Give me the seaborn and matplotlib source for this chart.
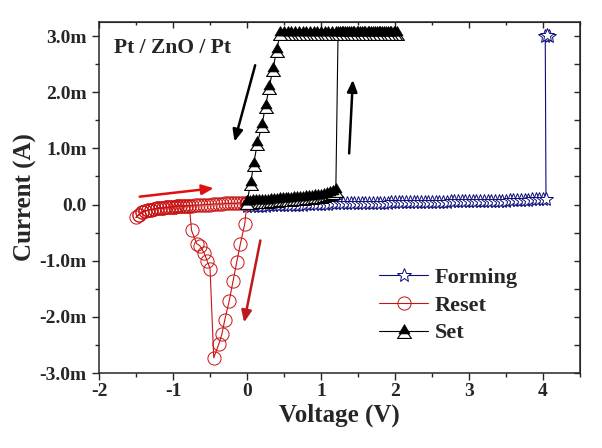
import matplotlib
matplotlib.use("Agg")
import matplotlib.pyplot as plt
import seaborn as sns
from matplotlib.path import Path
from matplotlib.lines import Line2D
from matplotlib.legend_handler import HandlerTuple
from matplotlib.ticker import MultipleLocator, FuncFormatter

# Forming sweep (V, mA)
forming_v = [0.00, 0.05, 0.10, 0.15, 0.20, 0.25, 0.30, 0.35, 0.40, 0.45,
             0.50, 0.55, 0.60, 0.65, 0.70, 0.75, 0.80, 0.85, 0.90, 0.95,
             1.00, 1.05, 1.10, 1.15, 1.20, 1.25, 1.30, 1.35, 1.40, 1.45,
             1.50, 1.55, 1.60, 1.65, 1.70, 1.75, 1.80, 1.85, 1.90, 1.95,
             2.00, 2.05, 2.10, 2.15, 2.20, 2.25, 2.30, 2.35, 2.40, 2.45,
             2.50, 2.55, 2.60, 2.65, 2.70, 2.75, 2.80, 2.85, 2.90, 2.95,
             3.00, 3.05, 3.10, 3.15, 3.20, 3.25, 3.30, 3.35, 3.40, 3.45,
             3.50, 3.55, 3.60, 3.65, 3.70, 3.75, 3.80, 3.85, 3.90, 3.95,
             4.00, 4.04, 4.03, 4.08, 4.05]
forming_i = [-0.03, -0.03, -0.02, -0.02, -0.02, -0.02, -0.01, -0.01, -0.01, -0.01,
             -0.01, 0.00, 0.00, 0.00, 0.00, 0.00, 0.01, 0.01, 0.01, 0.01,
             0.01, 0.01, 0.01, 0.02, 0.02, 0.02, 0.02, 0.02, 0.02, 0.02,
             0.02, 0.03, 0.03, 0.03, 0.03, 0.03, 0.03, 0.03, 0.03, 0.04,
             0.04, 0.04, 0.04, 0.04, 0.04, 0.04, 0.04, 0.05, 0.05, 0.05,
             0.05, 0.05, 0.05, 0.05, 0.05, 0.06, 0.06, 0.06, 0.06, 0.06,
             0.06, 0.06, 0.06, 0.07, 0.07, 0.07, 0.07, 0.07, 0.07, 0.07,
             0.07, 0.08, 0.08, 0.08, 0.08, 0.08, 0.08, 0.09, 0.09, 0.09,
             0.09, 0.10, 3.00, 3.00, 3.01]

# Reset sweep: sharp dip then the low current curve out to -1.5 V and back
reset_dip_v = [0.00, -0.03, -0.09, -0.14, -0.19, -0.24, -0.30, -0.34, -0.38, -0.45,
               -0.50, -0.54, -0.58, -0.64, -0.68, -0.75]
reset_dip_i = [0.03, -0.34, -0.70, -1.03, -1.37, -1.71, -2.05, -2.31, -2.48, -2.73,
               -1.14, -1.00, -0.86, -0.73, -0.70, -0.46]
reset_out_v = [-0.78, -0.82, -0.86, -0.90, -0.94, -0.98, -1.02, -1.06, -1.10, -1.14,
               -1.18, -1.22, -1.26, -1.30, -1.34, -1.38, -1.42, -1.46, -1.50]
reset_out_i = [-0.02, -0.02, -0.03, -0.03, -0.03, -0.04, -0.04, -0.05, -0.05, -0.06,
               -0.06, -0.07, -0.08, -0.09, -0.10, -0.12, -0.14, -0.18, -0.23]
reset_back_v = [-1.46, -1.42, -1.38, -1.34, -1.30, -1.26, -1.22, -1.18, -1.14, -1.10,
                -1.06, -1.02, -0.98, -0.94, -0.90, -0.86, -0.82, -0.78, -0.74, -0.70,
                -0.66, -0.62, -0.58, -0.54, -0.50, -0.46, -0.42, -0.38, -0.34, -0.30,
                -0.26, -0.22, -0.18, -0.14, -0.10, -0.06, -0.02]
reset_back_i = [-0.18, -0.14, -0.12, -0.10, -0.09, -0.08, -0.07, -0.06, -0.06, -0.05,
                -0.05, -0.04, -0.04, -0.03, -0.03, -0.03, -0.02, -0.02, -0.02, -0.01,
                -0.01, -0.01, 0.00, 0.00, 0.00, 0.01, 0.01, 0.01, 0.01, 0.02,
                0.02, 0.02, 0.02, 0.02, 0.03, 0.03, 0.03]

# Set sweep
set_v = [0.00, 0.04, 0.08, 0.12, 0.16, 0.20, 0.24, 0.28, 0.32, 0.36,
         0.40, 0.44, 0.48, 0.52, 0.56, 0.60, 0.64, 0.68, 0.72, 0.76,
         0.80, 0.84, 0.88, 0.92, 0.96, 1.00, 1.04, 1.08, 1.12, 1.16, 1.20,
         1.23, 1.28, 1.33, 1.38, 1.43, 1.48, 1.53, 1.58, 1.63, 1.68,
         1.73, 1.78, 1.83, 1.88, 1.93, 1.98, 2.03,
         2.00, 1.95, 1.90, 1.85, 1.80, 1.75, 1.70, 1.65, 1.60, 1.55,
         1.50, 1.45, 1.40, 1.35, 1.30, 1.25, 1.20, 1.15, 1.10, 1.05,
         1.00, 0.95, 0.90, 0.85, 0.80, 0.75, 0.70, 0.65, 0.60, 0.55, 0.50, 0.45,
         0.40, 0.35, 0.30, 0.25, 0.20, 0.14, 0.09, 0.05, 0.00]
set_i = [0.05, 0.05, 0.06, 0.06, 0.06, 0.07, 0.07, 0.07, 0.08, 0.08,
         0.08, 0.09, 0.09, 0.10, 0.10, 0.10, 0.11, 0.11, 0.12, 0.12,
         0.13, 0.13, 0.14, 0.15, 0.15, 0.16, 0.17, 0.18, 0.20, 0.22, 0.26,
         3.05, 3.05, 3.05, 3.05, 3.05, 3.05, 3.05, 3.05, 3.05, 3.05,
         3.05, 3.05, 3.05, 3.05, 3.05, 3.05, 3.05,
         3.05, 3.05, 3.05, 3.05, 3.05, 3.05, 3.05, 3.05, 3.05, 3.05,
         3.05, 3.05, 3.05, 3.05, 3.05, 3.05, 3.05, 3.05, 3.05, 3.05,
         3.05, 3.05, 3.05, 3.05, 3.05, 3.05, 3.05, 3.05, 3.05, 3.05, 3.05, 3.05,
         2.75, 2.41, 2.09, 1.75, 1.41, 1.09, 0.73, 0.38, 0.05]

navy = "#0c0c78"
red = "#c81414"

sns.set_style("ticks")
plt.rcParams["font.family"] = ["Liberation Serif", "DejaVu Serif"]
plt.rcParams["font.weight"] = "bold"
plt.rcParams["axes.unicode_minus"] = False

fig = plt.figure(figsize=(6.02, 4.48), dpi=100)
ax = fig.add_axes([0.1645, 0.1674, 0.799, 0.7835])

# two-layer triangle marker for the set curve
tri_open = Path([(0, 0.4), (-1, -1), (1, -1), (0, 0.4)], closed=True)
tri_fill = Path([(0, 1), (-0.8, -0.35), (0.8, -0.35), (0, 1)], closed=True)

reset_v = reset_dip_v + reset_out_v + reset_back_v + [0.00]
reset_i = reset_dip_i + reset_out_i + reset_back_i + [0.03]

sns.lineplot(x=forming_v, y=forming_i, sort=False, estimator=None, ax=ax,
             color=navy, lw=0.8, marker="*", markersize=10,
             markerfacecolor="white", markeredgecolor=navy, markeredgewidth=0.7)
sns.lineplot(x=reset_v, y=reset_i, sort=False, estimator=None, ax=ax,
             color=red, lw=0.8, marker="o", markersize=9.5,
             markerfacecolor="none", markeredgecolor=red, markeredgewidth=0.7)
sns.lineplot(x=set_v, y=set_i, sort=False, estimator=None, ax=ax,
             color="black", lw=0.8, marker=tri_open, markersize=10,
             markerfacecolor="white", markeredgecolor="black", markeredgewidth=0.8)
ax.plot(set_v, set_i, ls="none", marker=tri_fill, markersize=10,
        markerfacecolor="black", markeredgecolor="black", markeredgewidth=0.5)

ax.set_xlim(-2, 4.5)
ax.set_ylim(-3.0, 3.25)
ax.xaxis.set_major_locator(MultipleLocator(1))
ax.xaxis.set_minor_locator(MultipleLocator(0.5))
ax.yaxis.set_major_locator(MultipleLocator(1))
ax.yaxis.set_minor_locator(MultipleLocator(0.5))
ax.yaxis.set_major_formatter(FuncFormatter(lambda v, p: "0.0" if abs(v) < 1e-9 else f"{v:.1f}m"))
ax.tick_params(which="major", direction="out", length=5, width=1, labelsize=14)
ax.tick_params(which="minor", direction="out", length=3, width=1)
ax.tick_params(axis="y", pad=4)
ax.tick_params(axis="x", pad=2)
for s in ax.spines.values():
    s.set_linewidth(1.1)

# inward ticks on top and right
top = ax.secondary_xaxis("top")
top.xaxis.set_major_locator(MultipleLocator(1))
top.xaxis.set_minor_locator(MultipleLocator(0.5))
top.tick_params(which="major", direction="in", length=4, width=1, labeltop=False)
top.tick_params(which="minor", direction="in", length=2.5, width=1)
right = ax.secondary_yaxis("right")
right.yaxis.set_major_locator(MultipleLocator(1))
right.yaxis.set_minor_locator(MultipleLocator(0.5))
right.tick_params(which="major", direction="in", length=4, width=1, labelright=False)
right.tick_params(which="minor", direction="in", length=4, width=1)

ax.set_xlabel("Voltage (V)", fontsize=18, fontweight="bold", labelpad=3)
ax.set_ylabel("Current (A)", fontsize=18, fontweight="bold", labelpad=2)

ax.text(-1.8, 2.79, "Pt / ZnO / Pt", fontsize=15.5, fontweight="bold", va="center", ha="left")

# sweep direction arrows
arrows = [((0.11, 2.48), (-0.17, 1.12), "black"),
          ((1.38, 0.91), (1.43, 2.22), "black"),
          ((-1.45, 0.14), (-0.45, 0.29), "#e01010"),
          ((0.18, -0.64), (-0.04, -2.10), "#c01818")]
for start, end, col in arrows:
    ax.annotate("", xy=end, xytext=start,
                arrowprops=dict(arrowstyle="-|>,head_length=0.7,head_width=0.3",
                                color=col, lw=1.8, shrinkA=0, shrinkB=0))

h_form = Line2D([], [], color=navy, lw=0.8, marker="*", markersize=10,
                markerfacecolor="white", markeredgecolor=navy, markeredgewidth=0.7)
h_reset = Line2D([], [], color=red, lw=0.8, marker="o", markersize=9.5,
                 markerfacecolor="none", markeredgecolor=red, markeredgewidth=0.7)
h_set_a = Line2D([], [], color="black", lw=0.8, marker=tri_open, markersize=10,
                 markerfacecolor="white", markeredgecolor="black", markeredgewidth=0.8)
h_set_b = Line2D([], [], ls="none", marker=tri_fill, markersize=10,
                 markerfacecolor="black", markeredgecolor="black", markeredgewidth=0.5)
ax.legend([h_form, h_reset, (h_set_a, h_set_b)], ["Forming", "Reset", "Set"],
          handler_map={tuple: HandlerTuple(ndivide=1, pad=0)},
          loc="upper left", bbox_to_anchor=(0.55, 0.345), frameon=False,
          prop=dict(size=16, weight="bold"), handlelength=2.2, handletextpad=0.3,
          labelspacing=0.32, borderpad=0.2)

fig.savefig("out.png", dpi=100)
